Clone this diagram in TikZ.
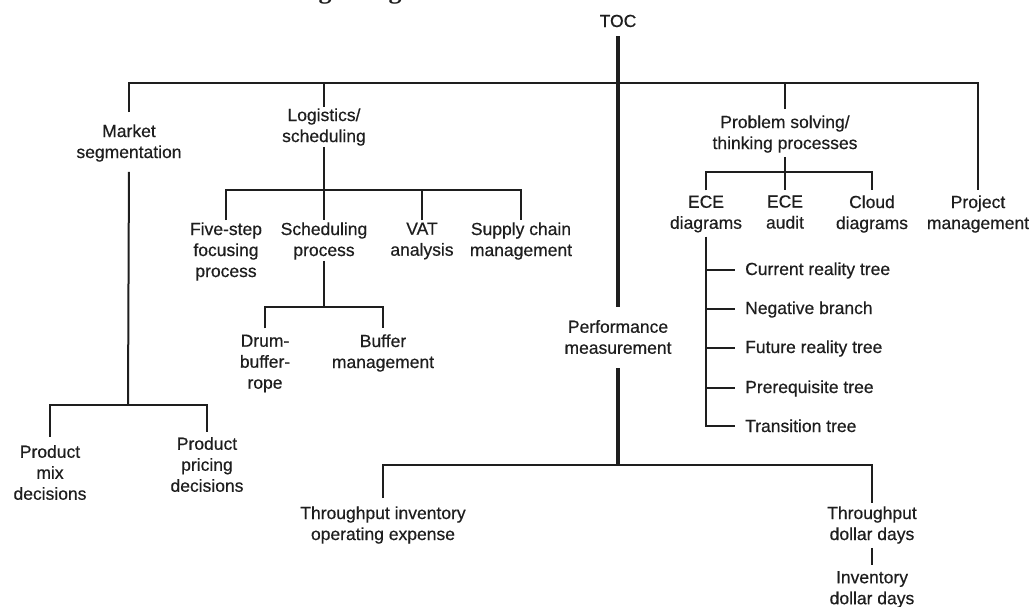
\documentclass[tikz,border=0pt]{standalone}
\usepackage{fontspec}
\setmainfont{Liberation Sans}[FakeBold=0.5]
\newfontfamily\titlefont{Liberation Serif}
\definecolor{ink}{HTML}{1E1E1E}
\begin{document}
\begin{tikzpicture}[x=1pt,y=-1pt,
  lbl/.style={font=\fontsize{17.5}{21}\selectfont, align=center, inner sep=0pt, text=ink},
  ln/.style={line width=2pt, draw=ink},
  trunk/.style={line width=3.4pt, draw=ink}]
\useasboundingbox (0,0) rectangle (1031,606);
% cut-off title fragment at the top edge (as in the reference)
\begin{scope}
\clip (0,0) rectangle (1031,606);
\node[font=\titlefont\bfseries\fontsize{26}{30}\selectfont, anchor=base, inner sep=0pt, text=ink] (tf1) at (325,-2) {g};
\node[font=\titlefont\bfseries\fontsize{26}{30}\selectfont, anchor=base, inner sep=0pt, text=ink] (tf2) at (395,-2) {g};
\end{scope}
% nodes
\node[lbl, anchor=base] (toc) at (618,27) {TOC};
\node[lbl] (mkt) at (129,143) {Market\\segmentation};
\node[lbl] (log) at (324,127) {Logistics/\\scheduling};
\node[lbl] (ps) at (785,134) {Problem solving/\\thinking processes};
\node[lbl] (pj) at (978,214) {Project\\management};
\node[lbl] (five) at (226,251.5) {Five-step\\focusing\\process};
\node[lbl] (sch) at (324,241) {Scheduling\\process};
\node[lbl] (vat) at (422,241) {VAT\\analysis};
\node[lbl] (sup) at (521,241) {Supply chain\\management};
\node[lbl] (drum) at (265,363.5) {Drum-\\buffer-\\rope};
\node[lbl] (buf) at (383,353) {Buffer\\management};
\node[lbl] (ece1) at (706,214) {ECE\\diagrams};
\node[lbl] (ece2) at (785,212) {ECE\\audit};
\node[lbl] (cloud) at (872,214) {Cloud\\diagrams};
\node[lbl, anchor=base west] (t1) at (745,275) {Current reality tree};
\node[lbl, anchor=base west] (t2) at (745,314) {Negative branch};
\node[lbl, anchor=base west] (t3) at (745,353) {Future reality tree};
\node[lbl, anchor=base west] (t4) at (745,393) {Prerequisite tree};
\node[lbl, anchor=base west] (t5) at (745,432) {Transition tree};
\node[lbl] (perf) at (618,337) {Performance\\measurement};
\node[lbl] (pmix) at (50,472.5) {Product\\mix\\decisions};
\node[lbl] (ppri) at (207,464.5) {Product\\pricing\\decisions};
\node[lbl] (tie) at (383,525) {Throughput inventory\\operating expense};
\node[lbl] (tdd) at (872,525) {Throughput\\dollar days};
\node[lbl] (idd) at (872,589.5) {Inventory\\dollar days};
% junction points
\coordinate (tbar) at (618,83);
\coordinate (lb) at (324,190);
\coordinate (sb) at (324,307);
\coordinate (mb) at (128,405);
\coordinate (pb2) at (785,172);
\coordinate (bb) at (618,465);
% trunk
\draw[trunk, shorten <=9pt, shorten >=13pt] (toc.south) -- (perf.north);
\draw[trunk, shorten <=14pt] (perf.south) -- (bb);
% main bar
\draw[ln] ([yshift=12pt]mkt.north) |- (tbar) -| ([yshift=5pt]pj.north);
\draw[ln] ([yshift=1.5pt]log.north) -- (log.north |- tbar);
\draw[ln] ([yshift=6pt]ps.north) -- (ps.north |- tbar);
% market
\draw[ln, shorten <=10pt] (mkt.south) -- (mb);
\draw[ln] ([yshift=8pt]pmix.north) |- (mb) -| ([yshift=5pt]ppri.north);
% logistics
\draw[ln, shorten <=1pt] (log.south) -- ([yshift=2pt]sch.north);
\draw[ln] ([yshift=2pt]five.north) |- (lb) -| ([yshift=2pt]sup.north);
\draw[ln] ([yshift=2pt]vat.north) -- (vat.north |- lb);
% scheduling
\draw[ln, shorten <=1pt] (sch.south) -- (sb);
\draw[ln] ([yshift=6pt]drum.north) |- (sb) -| ([yshift=6pt]buf.north);
% problem solving
\draw[ln, shorten <=4pt] (ps.south) -- ([yshift=5pt]ece2.north);
\draw[ln] ([yshift=5pt]ece1.north) |- (pb2) -| ([yshift=5pt]cloud.north);
% ECE tree
\draw[ln, shorten <=4pt] (ece1.south) |- ([xshift=-10pt]t5.west);
\foreach \t in {t1,t2,t3,t4}
  \draw[ln] (ece1.south |- \t.west) -- ([xshift=-10pt]\t.west);
% performance measurement
\draw[ln] ([yshift=8pt]tie.north) |- (bb) -| ([yshift=3pt]tdd.north);
\draw[ln, shorten <=4pt, shorten >=6pt] (tdd.south) -- (idd.north);
\end{tikzpicture}
\end{document}
